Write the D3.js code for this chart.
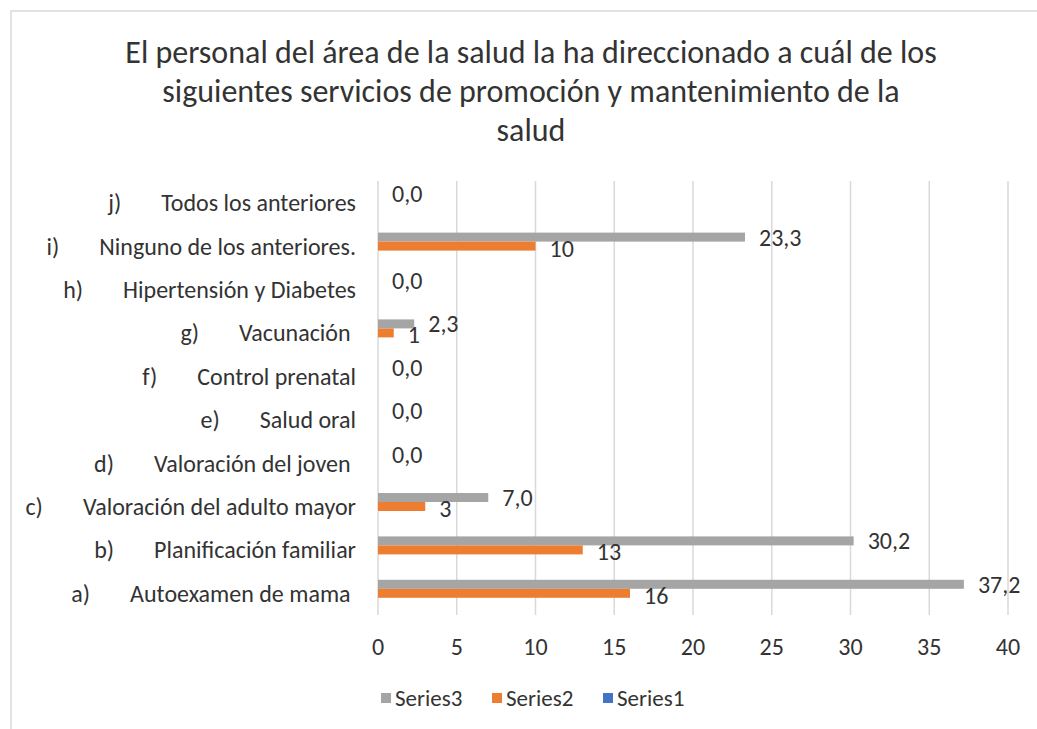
<!DOCTYPE html>
<html>
<head>
<meta charset="utf-8">
<script src="https://cdn.jsdelivr.net/npm/d3@7"></script>
<style>
  body { margin: 0; background: #fff; }
  text { font-family: Carlito, Calibri, "Open Sans", sans-serif; fill: #333; white-space: pre; }
</style>
</head>
<body>
<svg id="chart" width="1037" height="729"></svg>
<script>
// categories, top to bottom
var letters = ['j)', 'i)', 'h)', 'g)', 'f)', 'e)', 'd)', 'c)', 'b)', 'a)'];
var names = ['Todos los anteriores', 'Ninguno de los anteriores.', 'Hipertensión y Diabetes',
  'Vacunación ', 'Control prenatal', 'Salud oral', 'Valoración del joven ',
  'Valoración del adulto mayor', 'Planificación familiar', 'Autoexamen de mama '];

// series values (null = no value)
var series3 = [0, 23.3, 0, 2.3, 0, 0, 0, 7.0, 30.2, 37.2];
var series2 = [null, 10, null, 1, null, null, null, 3, 13, 16];
var series1 = [null, null, null, null, null, null, null, null, null, null];

var seriesNames = ['Series3', 'Series2', 'Series1'];
var xTicks = [0, 5, 10, 15, 20, 25, 30, 35, 40];

var colors = { Series3: '#A5A5A5', Series2: '#ED7D31', Series1: '#4472C4' };

var svg = d3.select('#chart');

// chart border
svg.append('rect')
  .attr('x', 11).attr('y', 11)
  .attr('width', 1100).attr('height', 800)
  .attr('fill', 'none')
  .attr('stroke', '#D9D9D9')
  .attr('stroke-width', 1.5);

// title
var titleLines = ['El personal del área de la salud la ha direccionado a cuál de los',
  'siguientes servicios de promoción y mantenimiento de la', 'salud'];
svg.append('g').selectAll('text')
  .data(titleLines)
  .enter().append('text')
  .attr('x', 531)
  .attr('y', function(d, i){ return 63 + i * 39; })
  .attr('text-anchor', 'middle')
  .style('font-size', '32px')
  .text(function(d){ return d; });

var x = d3.scaleLinear().domain([0, 40]).range([378, 1008]);
var y = d3.scaleBand().domain(d3.range(10)).range([181, 615])
  .paddingInner(0.378).paddingOuter(0.189);
var ySub = d3.scaleBand().domain(seriesNames).range([0, y.bandwidth()]);

// gridlines
svg.append('g').selectAll('line')
  .data(xTicks)
  .enter().append('line')
  .attr('x1', function(d){ return x(d); })
  .attr('x2', function(d){ return x(d); })
  .attr('y1', 181).attr('y2', 615)
  .attr('stroke', '#D9D9D9')
  .attr('stroke-width', 1.5);

// x tick labels
svg.append('g').selectAll('text')
  .data(xTicks)
  .enter().append('text')
  .attr('x', function(d){ return x(d); })
  .attr('y', 655)
  .attr('text-anchor', 'middle')
  .style('font-size', '24px')
  .text(function(d){ return d; });

// bars + data labels
var data = { Series3: series3, Series2: series2, Series1: series1 };
var barG = svg.append('g');
seriesNames.forEach(function(s){
  var rows = data[s].map(function(v, i){ return { v: v, i: i }; })
    .filter(function(d){ return d.v !== null; });

  barG.selectAll('.bar-' + s)
    .data(rows)
    .enter().append('rect')
    .attr('class', 'bar-' + s)
    .attr('x', x(0))
    .attr('y', function(d){ return y(d.i) + ySub(s); })
    .attr('width', function(d){ return x(d.v) - x(0); })
    .attr('height', ySub.bandwidth())
    .attr('fill', colors[s]);

  if (s === 'Series1') return;
  barG.selectAll('.lab-' + s)
    .data(rows)
    .enter().append('text')
    .attr('class', 'lab-' + s)
    .attr('x', function(d){ return x(d.v) + 14; })
    .attr('y', function(d){ return y(d.i) + ySub(s) + ySub.bandwidth() / 2 + (s === 'Series3' ? 0 : 2); })
    .attr('dy', '.35em')
    .style('font-size', '24px')
    .text(function(d){ return s === 'Series3' ? d3.format('.1f')(d.v).replace('.', ',') : d.v; });
});

// category labels (letter + tab + name)
var catG = svg.append('g');
names.forEach(function(n, i){
  var cy = y(i) + y.bandwidth() / 2;
  var t = catG.append('text')
    .attr('x', 356)
    .attr('y', cy)
    .attr('dy', '.35em')
    .attr('text-anchor', 'end')
    .style('font-size', '24px')
    .text(n);
  var w = t.node().getComputedTextLength();
  catG.append('text')
    .attr('x', 356 - w - 40)
    .attr('y', cy)
    .attr('dy', '.35em')
    .attr('text-anchor', 'end')
    .style('font-size', '24px')
    .text(letters[i]);
});

// legend
var legend = svg.selectAll('.legend')
  .data(seriesNames)
  .enter().append('g')
  .attr('class', 'legend')
  .attr('transform', function(d, i){ return 'translate(' + (381 + i * 111) + ',' + 693 + ')'; });

legend.append('rect')
  .attr('width', 10)
  .attr('height', 10)
  .style('fill', function(d){ return colors[d]; });

legend.append('text')
  .attr('x', 14)
  .attr('y', 5)
  .attr('dy', '.35em')
  .style('font-size', '23px')
  .text(function(d){ return d; });
</script>
</body>
</html>
